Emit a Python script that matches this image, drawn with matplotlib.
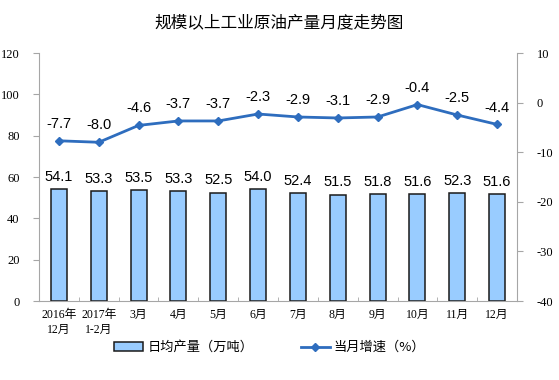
import numpy as np
import matplotlib.pyplot as plt
from matplotlib.ticker import FixedLocator

plt.rcParams['font.family'] = ['Noto Sans CJK SC', 'DejaVu Sans']
plt.rcParams['axes.unicode_minus'] = False

# Daten
months = ["2016年\n12月", "2017年\n1-2月", "3月", "4月", "5月", "6月",
          "7月", "8月", "9月", "10月", "11月", "12月"]
output = [54.1, 53.3, 53.5, 53.3, 52.5, 54.0, 52.4, 51.5, 51.8, 51.6, 52.3, 51.6]
growth = [-7.7, -8.0, -4.6, -3.7, -3.7, -2.3, -2.9, -3.1, -2.9, -0.4, -2.5, -4.4]

bar_color = "#99CCFF"
line_color = "#2E6DBE"
axis_gray = "#A6A6A6"

fig = plt.figure(figsize=(5.59, 3.80), dpi=100)
ax = fig.add_axes([39 / 559, 79 / 380, 478 / 559, 248 / 380])
ax2 = ax.twinx()

x = np.arange(len(months))

# Balken
ax.bar(x, output, width=0.4, color=bar_color, edgecolor="#1A1A1A",
       linewidth=1.1, label="日均产量（万吨）", zorder=2)
for xi, v in zip(x, output):
    ax.text(xi, v + 2.5, f"{v:.1f}", ha="center", va="bottom",
            fontsize=10.5, family=["Liberation Sans", "DejaVu Sans"])

# Linie
ax2.plot(x, growth, color=line_color, linewidth=2.0, marker="D",
         markersize=4, label="当月增速（%）", zorder=3)
for xi, v in zip(x, growth):
    ax2.text(xi, v + 2.0, f"{v:.1f}", ha="center", va="bottom",
             fontsize=10.5, family=["Liberation Sans", "DejaVu Sans"])

ax.set_xlim(-0.5, len(months) - 0.5)
ax.set_ylim(0, 120)
ax2.set_ylim(-40, 10)
ax.set_yticks(np.arange(0, 121, 20))
ax2.set_yticks(np.arange(-40, 11, 10))

ax.set_xticks(x)
ax.set_xticklabels(months, fontsize=8.5, family=["Liberation Serif", "Noto Sans CJK SC"],
                   linespacing=1.3)
ax.xaxis.set_minor_locator(FixedLocator(np.arange(0.5, len(months) - 1, 1.0)))
ax.tick_params(axis="x", which="major", length=0, pad=6)
ax.tick_params(axis="x", which="minor", length=3, direction="in", color=axis_gray)

for a in (ax, ax2):
    for s in a.spines.values():
        s.set_visible(False)
ax.spines["left"].set_visible(True)
ax.spines["bottom"].set_visible(True)
ax2.spines["right"].set_visible(True)
ax.spines["left"].set_color(axis_gray)
ax.spines["bottom"].set_color(axis_gray)
ax2.spines["right"].set_color(axis_gray)

ax.tick_params(axis="y", length=4, color=axis_gray, labelsize=9, pad=10)
ax2.tick_params(axis="y", length=4, color=axis_gray, labelsize=9, pad=10)
for lab in ax.get_yticklabels() + ax2.get_yticklabels():
    lab.set_family(["Liberation Serif", "DejaVu Serif"])

fig.suptitle("规模以上工业原油产量月度走势图", x=0.5, y=0.962, fontsize=12)

h1, l1 = ax.get_legend_handles_labels()
h2, l2 = ax2.get_legend_handles_labels()
fig.legend(h1 + h2, l1 + l2, loc="center", bbox_to_anchor=(0.483, 0.085), ncol=2,
           frameon=False, fontsize=9.5, handlelength=2.2, handleheight=0.6,
           columnspacing=3.6, handletextpad=0.3)

fig.savefig("out.png", dpi=100)
